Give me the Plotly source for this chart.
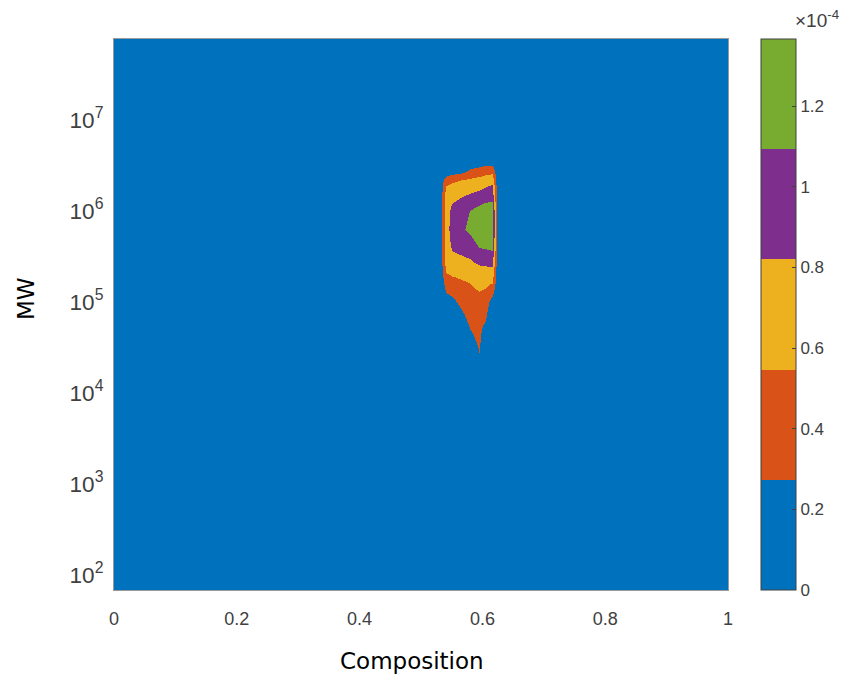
import math
import plotly.graph_objects as go

# ---- data ----
composition = [0.0, 0.53, 0.54, 0.55, 0.565, 0.58, 0.595, 0.605, 0.615, 0.625, 1.0]
mw = [68, 1.0e4, 2.0e4, 2.8e4, 4.0e4, 6.3e4, 1.0e5, 1.6e5, 2.5e5, 4.0e5,
      6.3e5, 1.0e6, 1.6e6, 2.2e6, 2.8e6, 4.0e6, 7.7e7]
# density values in units of 1e-4; rows follow mw, columns follow composition
density_e4 = [
    [0, 0, 0,    0,    0,    0,    0,    0,    0,    0, 0],
    [0, 0, 0,    0,    0,    0,    0,    0,    0,    0, 0],
    [0, 0, 0,    0,    0,    0,    0,    0,    0,    0, 0],
    [0, 0, 0,    0,    0,    0,    0.28, 0,    0,    0, 0],
    [0, 0, 0,    0,    0,    0.20, 0.35, 0,    0,    0, 0],
    [0, 0, 0,    0,    0.15, 0.35, 0.40, 0.30, 0,    0, 0],
    [0, 0, 0.15, 0.20, 0.35, 0.45, 0.48, 0.42, 0.15, 0, 0],
    [0, 0, 0.40, 0.45, 0.50, 0.55, 0.60, 0.60, 0.55, 0, 0],
    [0, 0, 0.65, 0.70, 0.72, 0.75, 0.82, 0.83, 0.85, 0, 0],
    [0, 0, 0.70, 0.85, 0.90, 0.95, 1.10, 1.12, 1.15, 0, 0],
    [0, 0, 0.70, 0.95, 1.05, 1.15, 1.30, 1.30, 1.30, 0, 0],
    [0, 0, 0.70, 0.90, 1.00, 1.10, 1.20, 1.25, 1.25, 0, 0],
    [0, 0, 0.65, 0.70, 0.75, 0.80, 0.85, 0.90, 0.95, 0, 0],
    [0, 0, 0.45, 0.50, 0.55, 0.60, 0.65, 0.70, 0.75, 0, 0],
    [0, 0, 0,    0.10, 0.15, 0.30, 0.35, 0.40, 0.42, 0, 0],
    [0, 0, 0,    0,    0,    0,    0,    0,    0,    0, 0],
    [0, 0, 0,    0,    0,    0,    0,    0,    0,    0, 0],
]
z_max = 1.36667
band_colors = ["#0072BD", "#D95319", "#EDB120", "#7E2F8E", "#77AC30"]
cbar_ticks = [0, 0.2, 0.4, 0.6, 0.8, 1.0, 1.2]
x_ticks = [0, 0.2, 0.4, 0.6, 0.8, 1.0]

# stepped colour scale: 5 equal bands over [0, z_max]
n = len(band_colors)
colorscale = []
for i, c in enumerate(band_colors):
    colorscale.append([i / n, c])
    colorscale.append([(i + 1) / n, c])

# page body has an 8px margin, so the figure is shifted by 8px
OFF = 8
W, H = 851 - OFF, 682 - OFF
L, R, T, B = 114 - OFF, 728 - OFF, 39 - OFF, 590 - OFF
pw, ph = R - L, B - T

fig = go.Figure(go.Contour(
    x=composition, y=mw, z=density_e4,
    colorscale=colorscale, zmin=0, zmax=z_max, zauto=False,
    contours=dict(coloring="heatmap", showlines=False,
                  start=z_max / n, end=z_max, size=z_max / n),
    line=dict(width=0),
    colorbar=dict(
        thickness=35, thicknessmode="pixels", len=1, lenmode="fraction",
        x=(761 - 114) / pw, xanchor="left", y=0.5, yanchor="middle",
        xpad=0, ypad=0, outlinewidth=1, outlinecolor="#404040",
        tickmode="array", tickvals=cbar_ticks, ticks="inside", ticklen=4,
        tickcolor="#404040",
        tickfont=dict(family="Liberation Sans, Arial", size=17, color="#404040"),
    ),
    hoverinfo="skip",
))

fig.update_layout(
    width=W, height=H,
    margin=dict(l=L, r=W - R, t=T, b=H - B),
    paper_bgcolor="white", plot_bgcolor="white",
    showlegend=False,
    xaxis=dict(range=[0, 1], tickmode="array", tickvals=x_ticks,
               showgrid=False, zeroline=False, showline=True, mirror=True,
               linecolor="#9a9a9a", linewidth=1, ticks="",
               ticklabelstandoff=12,
               tickfont=dict(family="Liberation Sans, Arial", size=18, color="#404040")),
    yaxis=dict(type="log", range=[math.log10(68), math.log10(7.7e7)],
               tickmode="linear", tick0=0, dtick=1, exponentformat="power",
               showgrid=False, zeroline=False, showline=True, mirror=True,
               linecolor="#9a9a9a", linewidth=1, ticks="",
               ticklabelstandoff=6,
               tickfont=dict(family="Liberation Sans, Arial", size=18, color="#404040")),
    annotations=[
        dict(text="Composition", xref="paper", yref="paper",
             x=(412 - 114) / pw, y=(590 - 661) / ph, xanchor="center", yanchor="middle",
             showarrow=False, font=dict(family="DejaVu Sans", size=23, color="black")),
        dict(text="MW", xref="paper", yref="paper",
             x=(26 - 114) / pw, y=(590 - 299) / ph, xanchor="center", yanchor="middle",
             textangle=-90, showarrow=False,
             font=dict(family="DejaVu Sans", size=23, color="black")),
        dict(text="\u00d710<sup>-4</sup>", xref="paper", yref="paper",
             x=(793 - 114) / pw, y=1 + (39 - 33) / ph, xanchor="left", yanchor="bottom",
             showarrow=False,
             font=dict(family="Liberation Sans, Arial", size=19, color="#404040")),
    ],
)

fig.write_html("out.html")
